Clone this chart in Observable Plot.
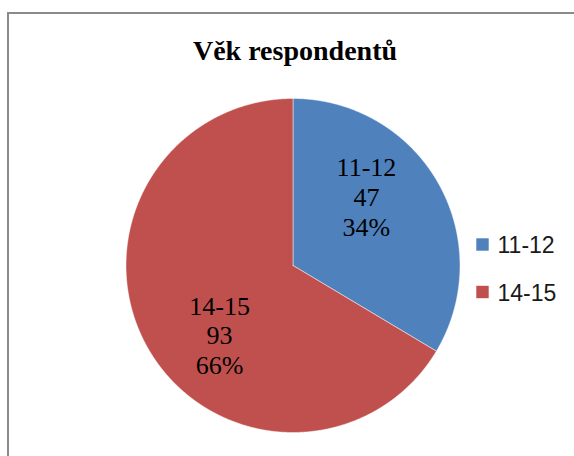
<!DOCTYPE html>
<html>
<head>
<meta charset="utf-8">
<script src="https://cdn.jsdelivr.net/npm/d3@7"></script>
<script src="https://cdn.jsdelivr.net/npm/@observablehq/plot@0.6"></script>
<style>
  html, body { margin: 0; padding: 0; background: #fff; overflow: hidden; }
  #wrap { position: relative; width: 574px; height: 456px; overflow: hidden; background: #fff; }
  #frame { position: absolute; left: 7px; top: 12px; width: 620px; height: 520px;
           border-left: 2px solid #8a8a8a; border-top: 2px solid #8a8a8a; box-sizing: border-box; }
  #chart { position: absolute; left: 0; top: 0; }
  #chart svg { background: transparent; }
</style>
</head>
<body>
<div id="wrap"><div id="frame"></div><div id="chart"></div></div>
<script>
// ---- data ----
const title = "Věk respondentů";
const categories = ["11-12", "14-15"];
const counts = [47, 93];
const percentLabels = ["34%", "66%"];
const colors = ["#4F81BD", "#C0504D"];

// ---- layout (pixels) ----
const W = 574, H = 456;
const cx = 292.5, cy = 265, R = 167;
const labelAngleShift = -13.8 * Math.PI / 180, labelFrac = 0.605;

const arcs = d3.pie().sort(null).value(d => d)(counts);

// slice polygons (centre + sampled arc)
const slicePoints = [];
arcs.forEach((a, i) => {
  const cat = categories[i];
  slicePoints.push({cat, x: cx, y: cy});
  const n = Math.max(2, Math.ceil((a.endAngle - a.startAngle) / (0.25 * Math.PI / 180)));
  for (let k = 0; k <= n; k++) {
    const t = a.startAngle + (a.endAngle - a.startAngle) * k / n;
    slicePoints.push({cat, x: cx + R * Math.sin(t), y: cy - R * Math.cos(t)});
  }
  slicePoints.push({cat, x: cx, y: cy});
});

const labels = arcs.map((a, i) => {
  const t = (a.startAngle + a.endAngle) / 2 + labelAngleShift;
  return {
    text: `${categories[i]}\n${counts[i]}\n${percentLabels[i]}`,
    x: cx + labelFrac * R * Math.sin(t),
    y: cy - labelFrac * R * Math.cos(t)
  };
});

const legend = categories.map((c, i) => ({cat: c, x: 482, y: 244 + i * 47.5}));

const plot = Plot.plot({
  width: W, height: H,
  margin: 0,
  x: {domain: [0, W], range: [0, W], axis: null},
  y: {domain: [0, H], range: [0, H], axis: null},
  color: {domain: categories, range: colors},
  style: {background: "transparent"},
  marks: [
    Plot.line(slicePoints, {x: "x", y: "y", z: "cat", fill: "cat", stroke: "#ffffff", strokeOpacity: 0.6, strokeWidth: 0.8, strokeLinejoin: "miter"}),
    Plot.text(labels, {x: "x", y: "y", text: "text", fontSize: 26, lineHeight: 1.15,
      fontFamily: "'Liberation Serif', 'Times New Roman', serif", fill: "#000", letterSpacing: "0.4px"}),
    Plot.text([title], {x: () => cx + 2, y: () => 51, text: d => d, fontSize: 28, fontWeight: "bold",
      fontFamily: "'Liberation Serif', 'Times New Roman', serif", fill: "#000", letterSpacing: "0.4px"}),
    Plot.dot(legend, {x: "x", y: "y", fill: "cat", symbol: "square", r: 7}),
    Plot.text(legend, {x: d => d.x + 15, y: d => d.y + 1.5, text: "cat", textAnchor: "start", fontSize: 23,
      fontFamily: "'Liberation Sans', Arial, sans-serif", fill: "#1a1a1a"})
  ]
});
document.getElementById("chart").appendChild(plot);
</script>
</body>
</html>
